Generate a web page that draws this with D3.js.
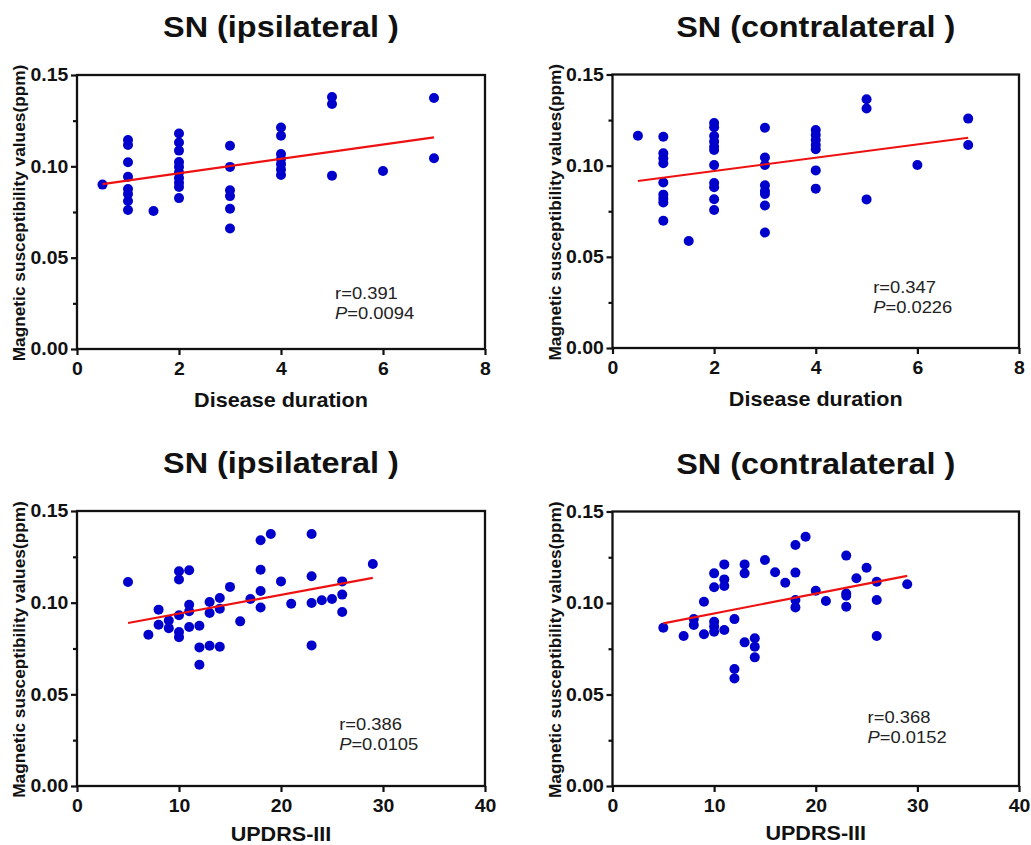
<!DOCTYPE html>
<html><head><meta charset="utf-8">
<script src="https://cdn.jsdelivr.net/npm/d3@7"></script>
<style>
body{margin:0;background:#fff}
svg{display:block}
text{font-family:"Liberation Sans",Arial,Helvetica,sans-serif}
</style>
</head><body>
<svg id="chart" width="1031" height="845"></svg>
<script>
// ---------------- data ----------------
const titles = ["SN (ipsilateral )", "SN (contralateral )", "SN (ipsilateral )", "SN (contralateral )"];
const xLabels = ["Disease duration", "Disease duration", "UPDRS-III", "UPDRS-III"];
const yLabel = "Magnetic susceptibility values(ppm)";
const yTicks = [0.00, 0.05, 0.10, 0.15];
const yMinorTicks = [0.025, 0.075, 0.125];
const durTicks = [0, 2, 4, 6, 8];
const updrsTicks = [0, 10, 20, 30, 40];

// Disease duration vs SN (ipsilateral)
const durIpsiX = [0.5, 1,1,1,1,1,1,1,1, 1.5, 2,2,2,2,2,2,2,2,2,2, 3,3,3,3,3,3, 4,4,4,4,4,4,4, 5,5,5, 6, 7,7];
const durIpsiY = [0.0900, 0.1144,0.1117,0.1022,0.0943,0.0876,0.0849,0.0810,0.0761, 0.0755,
  0.1180,0.1130,0.1086,0.1024,0.0997,0.0966,0.0936,0.0910,0.0887,0.0826,
  0.1113,0.0997,0.0869,0.0837,0.0768,0.0660,
  0.1213,0.1167,0.1067,0.1040,0.1012,0.0983,0.0953,
  0.1380,0.1341,0.0949, 0.0974, 0.1374,0.1044];

// Disease duration vs SN (contralateral)
const durContraX = [0.5, 1,1,1,1,1,1,1,1,1, 1.5, 2,2,2,2,2,2,2,2,2,2,2, 3,3,3,3,3,3,3,3, 4,4,4,4,4,4,4, 5,5,5, 6, 7,7];
const durContraY = [0.1164, 0.1159,0.1068,0.1040,0.1013,0.0908,0.0841,0.0819,0.0798,0.0698, 0.0587,
  0.1234,0.1211,0.1163,0.1132,0.1104,0.1086,0.1003,0.0905,0.0882,0.0816,0.0757,
  0.1208,0.1045,0.1004,0.0892,0.0861,0.0845,0.0782,0.0633,
  0.1196,0.1168,0.1141,0.1113,0.1090,0.0974,0.0874,
  0.1364,0.1314,0.0815, 0.1004, 0.1258,0.1113];

// UPDRS-III vs SN (ipsilateral)
const updrsIpsiX = [5,7,8,8,9,9,10,10,10,10,10,11,11,11,11,12,12,12,13,13,13,14,14,14,15,16,17,18,18,18,18,19,20,21,23,23,23,23,24,25,26,26,26,29];
const updrsIpsiY = [0.1113,0.0825,0.0962,0.0880,0.0903,0.0861,0.1171,0.1126,0.0931,0.0840,0.0812,
  0.1177,0.0989,0.0953,0.0867,0.0874,0.0756,0.0661,0.1004,0.0944,0.0765,0.1025,0.0967,0.0760,
  0.1086,0.0898,0.1020,0.1340,0.1180,0.1064,0.0974,0.1375,0.1116,0.0994,
  0.1375,0.1144,0.0998,0.0767,0.1013,0.1020,0.1116,0.1044,0.0949,0.1211];

// UPDRS-III vs SN (contralateral)
const updrsContraX = [5,7,8,8,9,9,10,10,10,10,10,11,11,11,11,12,12,12,13,13,13,14,14,14,15,16,17,18,18,18,18,19,20,21,23,23,23,23,24,25,26,26,26,29];
const updrsContraY = [0.0865,0.0820,0.0912,0.0880,0.1007,0.0829,0.1162,0.1086,0.0898,0.0871,0.0843,
  0.1211,0.1129,0.1093,0.0852,0.0912,0.0639,0.0588,0.1211,0.1162,0.0785,0.0807,0.0761,0.0703,
  0.1235,0.1168,0.1111,0.1317,0.1166,0.1016,0.0976,0.1362,0.1067,0.1011,
  0.1259,0.1052,0.1040,0.0980,0.1135,0.1193,0.1116,0.1016,0.0820,0.1102];

// regression line end points
const fitDurX = [0.5, 7];
const fitDurIpsiY = [0.0903, 0.1159];
const fitDurContraY = [0.0916, 0.1153];
const fitUpdrsX = [5, 29];
const fitUpdrsIpsiY = [0.0889, 0.1135];
const fitUpdrsContraY = [0.0889, 0.1148];

const rValues = ["0.391", "0.347", "0.386", "0.368"];
const pValues = ["0.0094", "0.0226", "0.0105", "0.0152"];

// ---------------- layout ----------------
const SX = 1.08; // horizontal text stretch seen in the reference
const panels = [
  {xs: durIpsiX, ys: durIpsiY, fx: fitDurX, fy: fitDurIpsiY, xDomain: [0, 8], xTicks: durTicks,
   box: {l: 77, t: 75, w: 408, h: 274}, statAt: [5.06, 0.0274], xLabelGap: 58},
  {xs: durContraX, ys: durContraY, fx: fitDurX, fy: fitDurContraY, xDomain: [0, 8], xTicks: durTicks,
   box: {l: 612.5, t: 74.5, w: 406.5, h: 273.5}, statAt: [5.13, 0.0303], xLabelGap: 58},
  {xs: updrsIpsiX, ys: updrsIpsiY, fx: fitUpdrsX, fy: fitUpdrsIpsiY, xDomain: [0, 40], xTicks: updrsTicks,
   box: {l: 77, t: 511, w: 408, h: 275}, statAt: [25.7, 0.0306], xLabelGap: 54.5},
  {xs: updrsContraX, ys: updrsContraY, fx: fitUpdrsX, fy: fitUpdrsContraY, xDomain: [0, 40], xTicks: updrsTicks,
   box: {l: 612.5, t: 511.5, w: 406.5, h: 274.5}, statAt: [25.1, 0.0346], xLabelGap: 54}
];

const svg = d3.select("#chart");

function stretchedText(g, x, y, str) {
  return g.append("text").attr("transform", `translate(${x},${y}) scale(${SX},1)`).text(str);
}

panels.forEach((p, i) => {
  const {l, t, w, h} = p.box;
  const g = svg.append("g");
  const x = d3.scaleLinear().domain(p.xDomain).range([l, l + w]);
  const y = d3.scaleLinear().domain([0, 0.15]).range([t + h, t]);

  // title
  stretchedText(g, l + w / 2, t - 37.7, titles[i])
    .attr("text-anchor", "middle").attr("font-size", 30).attr("font-weight", "bold").attr("fill", "#111");

  // frame
  g.append("rect").attr("x", l).attr("y", t).attr("width", w).attr("height", h)
    .attr("fill", "none").attr("stroke", "#111").attr("stroke-width", 2.3);

  // y axis
  const ya = g.append("g").attr("transform", `translate(${l},0)`)
    .call(d3.axisLeft(y).tickValues(yTicks).tickFormat(d3.format(".2f")).tickSize(6).tickPadding(2));
  ya.select(".domain").remove();
  ya.selectAll(".tick line").attr("stroke", "#111").attr("stroke-width", 2.2);
  ya.selectAll(".tick text").attr("font-size", 18).attr("font-weight", "bold").attr("fill", "#111")
    .attr("font-family", "'Liberation Sans',Arial,sans-serif")
    .attr("transform", `scale(${SX},1)`);

  const ym = g.append("g").attr("transform", `translate(${l},0)`)
    .call(d3.axisLeft(y).tickValues(yMinorTicks).tickFormat("").tickSize(4));
  ym.select(".domain").remove();
  ym.selectAll(".tick line").attr("stroke", "#111").attr("stroke-width", 2.2);

  // x axis
  const xa = g.append("g").attr("transform", `translate(0,${t + h})`)
    .call(d3.axisBottom(x).tickValues(p.xTicks).tickFormat(d3.format("d")).tickSize(6).tickPadding(7));
  xa.select(".domain").remove();
  xa.selectAll(".tick line").attr("stroke", "#111").attr("stroke-width", 2.2);
  xa.selectAll(".tick text").attr("font-size", 18).attr("font-weight", "bold").attr("fill", "#111")
    .attr("font-family", "'Liberation Sans',Arial,sans-serif")
    .attr("transform", `scale(${SX},1)`)
    .attr("x", 0);

  // axis labels
  stretchedText(g, l + w / 2, t + h + p.xLabelGap, xLabels[i])
    .attr("text-anchor", "middle").attr("font-size", 20).attr("font-weight", "bold").attr("fill", "#111");
  g.append("text")
    .attr("transform", `translate(${l - 52},${t + h / 2 + 1}) rotate(-90)`)
    .attr("text-anchor", "middle").attr("font-size", 17.3).attr("font-weight", "bold").attr("fill", "#111")
    .text(yLabel);

  // points
  const pts = p.xs.map((v, k) => [v, p.ys[k]]);
  g.append("g").selectAll("circle").data(pts).join("circle")
    .attr("cx", d => x(d[0])).attr("cy", d => y(d[1])).attr("r", 5)
    .attr("fill", "#0000cc");

  // regression line
  const line = d3.line().x(d => x(d[0])).y(d => y(d[1]));
  g.append("path").datum(p.fx.map((v, k) => [v, p.fy[k]]))
    .attr("d", line).attr("fill", "none").attr("stroke", "#ee1111").attr("stroke-width", 2.2);

  // stats
  const sx0 = x(p.statAt[0]), sy0 = y(p.statAt[1]);
  stretchedText(g, sx0, sy0, "r=" + rValues[i]).attr("font-size", 17).attr("fill", "#222");
  const pt = g.append("text").attr("transform", `translate(${sx0},${sy0 + 20.5}) scale(${SX},1)`)
    .attr("font-size", 17).attr("fill", "#222");
  pt.append("tspan").attr("font-style", "italic").text("P");
  pt.append("tspan").text("=" + pValues[i]);
});
</script>
</body></html>
